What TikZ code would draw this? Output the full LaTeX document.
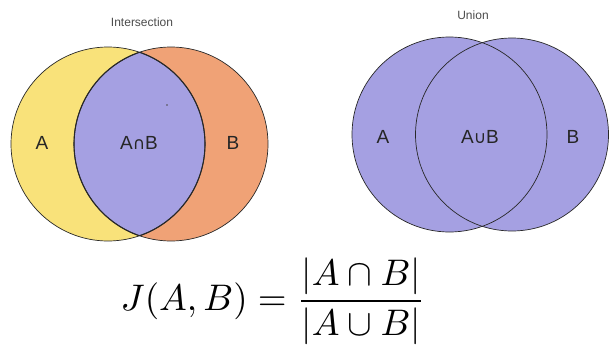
\documentclass[tikz,border=0pt]{standalone}
\usepackage{fontspec}
\usepackage{amsmath}
\usepackage{graphicx}
\setmainfont{Liberation Sans}
\newfontfamily\symfont{DejaVu Sans}
\definecolor{vyellow}{RGB}{249,226,122}
\definecolor{vorange}{RGB}{240,162,118}
\definecolor{vpurple}{RGB}{165,160,226}
\definecolor{vline}{RGB}{40,40,40}
\tikzset{
  setlabel/.style={font=\fontsize{19}{22}\selectfont, text=black!85},
  titlelabel/.style={font=\fontsize{12}{14}\selectfont, text=black!70},
  outline/.style={draw=vline, line width=0.7pt},
}
\begin{document}
\begin{tikzpicture}[x=1pt,y=-1pt]
\useasboundingbox (0,0) rectangle (613,345);
% left: intersection
\fill[vyellow] (108,144) circle (97);
\fill[vorange] (171,144) circle (97);
\begin{scope}
  \clip (108,144) circle (97);
  \fill[vpurple] (171,144) circle (97);
\end{scope}
\node[circle, outline, minimum size=194pt, inner sep=0pt] (lA) at (108,144) {};
\node[circle, outline, minimum size=194pt, inner sep=0pt] (lB) at (171,144) {};
\begin{scope}
  \clip (108,144) circle (97);
  \draw[vline, line width=1.1pt] (171,144) circle (97);
\end{scope}
\begin{scope}
  \clip (171,144) circle (97);
  \draw[vline, line width=1.1pt] (108,144) circle (97);
\end{scope}
\fill[black!70] (167,105) circle (0.9);
\node[titlelabel] (t1) at (142,22) {Intersection};
\node[setlabel] (la) at (42,143) {A};
\node[setlabel] (lab) at (139,143) {A{\symfont\fontsize{17}{20}\selectfont ∩}B};
\node[setlabel] (lb) at (233,143) {B};
% right: union
\fill[vpurple] (449.5,134.5) circle (97.5);
\fill[vpurple] (512,134.5) circle (96.5);
\node[circle, draw=vline, line width=0.7pt, minimum size=195pt, inner sep=0pt] (rA) at (449.5,134.5) {};
\node[circle, draw=vline, line width=0.7pt, minimum size=193pt, inner sep=0pt] (rB) at (512,134.5) {};
\node[titlelabel] (t2) at (473,15) {Union};
\node[setlabel] (ra) at (383,137) {A};
\node[setlabel] (rab) at (480,137) {A{\symfont\fontsize{17}{20}\selectfont ∪}B};
\node[setlabel] (rb) at (573,137) {B};
% formula
\node (f) at (273,301) {\scalebox{3.7}{$\displaystyle J(A,B)=\frac{|A\cap B|}{|A\cup B|}$}};
\end{tikzpicture}
\end{document}
